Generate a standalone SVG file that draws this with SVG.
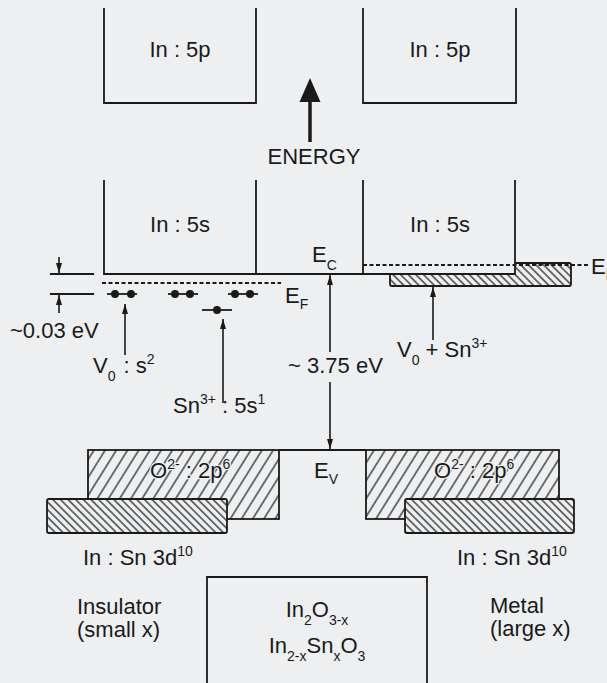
<svg xmlns="http://www.w3.org/2000/svg" width="607" height="683" viewBox="0 0 607 683">
<defs>
<style>
text{font-family:"Liberation Sans",Arial,sans-serif;font-size:22px;fill:#1a1a1a}
.sm{font-size:14px}
.ln{stroke:#1a1a1a;stroke-width:1.8;fill:none}
.bg{fill:#edeff1;stroke:none}
.dash{stroke:#1a1a1a;stroke-width:1.8;stroke-dasharray:4 2.5;fill:none}
.arr{stroke:#1a1a1a;stroke-width:1.6;fill:none;marker-end:url(#ah)}
.dot{fill:#1a1a1a}
.halo{stroke:#edeff1;stroke-width:2.5;paint-order:stroke}
.hb{stroke:#1a1a1a;stroke-width:1.8}
</style>
<marker id="ah" viewBox="0 0 10 6" refX="10" refY="3" markerWidth="10" markerHeight="6" markerUnits="userSpaceOnUse" orient="auto"><path d="M0,0 L10,3 L0,6 z" fill="#1a1a1a"/></marker>
<pattern id="hO" width="9.5" height="9.5" patternUnits="userSpaceOnUse" patternTransform="rotate(32)"><line x1="4.75" y1="-1" x2="4.75" y2="11" stroke="#1a1a1a" stroke-width="1.2"/></pattern>
<pattern id="hB" width="5.4" height="5.4" patternUnits="userSpaceOnUse" patternTransform="rotate(-45)"><line x1="2.7" y1="-1" x2="2.7" y2="7" stroke="#1a1a1a" stroke-width="1.2"/></pattern>
</defs>
<rect class="bg" x="0" y="0" width="607" height="683"/>

<g id="in5p-left"><path class="ln" d="M104,8 V103 H256 V8"/><text x="180" y="57" text-anchor="middle">In : 5p</text></g>
<g id="in5p-right"><path class="ln" d="M363,8 V103 H516 V8"/><text x="440" y="57" text-anchor="middle">In : 5p</text></g>

<g id="energy"><line x1="310" y1="142" x2="310" y2="98" stroke="#1a1a1a" stroke-width="3.5"/><polygon points="299.5,102 310,78 320.5,102" fill="#1a1a1a"/><text x="314" y="164" text-anchor="middle">ENERGY</text></g>

<g id="band-right"><rect class="bg" x="390" y="263" width="181" height="23"/><rect class="hb" x="390" y="263" width="181" height="23" rx="2" fill="url(#hB)"/></g>

<g id="in5s-left"><path class="ln" d="M104,180 V274 H256 V180"/><text x="180" y="232" text-anchor="middle">In : 5s</text></g>
<g id="in5s-right"><rect class="bg" x="363" y="180" width="152" height="94"/><path class="ln" d="M363,180 V274 H515 V180"/><text x="440" y="232" text-anchor="middle">In : 5s</text></g>
<g id="ec"><line class="ln" x1="256" y1="274" x2="363" y2="274"/><text x="312" y="262">E<tspan class="sm" dy="8">C</tspan></text></g>

<g id="ef-left"><line class="dash" x1="102" y1="283" x2="281" y2="283"/><text x="285" y="303">E<tspan class="sm" dy="6">F</tspan></text></g>
<g id="ef-right"><line class="dash" x1="363" y1="265" x2="589" y2="265"/><text x="591" y="274">E<tspan class="sm" dy="6">F</tspan></text></g>

<g id="gap-marker"><line class="ln" x1="50" y1="274" x2="94" y2="274"/><line class="ln" x1="50" y1="294" x2="94" y2="294"/><text x="10" y="338">~0.03 eV</text></g>

<g id="levels">
<line class="ln" x1="107" y1="294" x2="137" y2="294"/><circle class="dot" cx="115" cy="294" r="4"/><circle class="dot" cx="131" cy="294" r="4"/>
<line class="ln" x1="168" y1="294" x2="198" y2="294"/><circle class="dot" cx="175" cy="294" r="4"/><circle class="dot" cx="190" cy="294" r="4"/>
<line class="ln" x1="228" y1="294" x2="258" y2="294"/><circle class="dot" cx="235" cy="294" r="4"/><circle class="dot" cx="250" cy="294" r="4"/>
<line class="ln" x1="202" y1="310" x2="232" y2="310"/><circle class="dot" cx="217" cy="310" r="4"/>
</g>

<g id="label-v0"><text x="93" y="373">V<tspan class="sm" dy="8">0</tspan><tspan dy="-8" dx="2"> : s</tspan><tspan class="sm" dy="-9">2</tspan></text></g>
<g id="label-sn"><text x="173" y="413">Sn<tspan class="sm" dy="-9">3+</tspan><tspan dy="9"> : 5s</tspan><tspan class="sm" dy="-9">1</tspan></text></g>
<g id="label-v0sn"><text x="397" y="357">V<tspan class="sm" dy="8">0</tspan><tspan dy="-8"> + Sn</tspan><tspan class="sm" dy="-9">3+</tspan></text></g>
<g id="label-gap"><text x="288" y="373">~ 3.75 eV</text></g>

<g id="o2-left"><rect class="hb" x="88" y="450" width="191" height="69" fill="url(#hO)"/><text class="halo" x="150" y="478">O<tspan class="sm" dy="-9">2-</tspan><tspan dy="9"> : 2p</tspan><tspan class="sm" dy="-9">6</tspan></text></g>
<g id="o2-right"><rect class="hb" x="366" y="450" width="193" height="69" fill="url(#hO)"/><text class="halo" x="434" y="478">O<tspan class="sm" dy="-9">2-</tspan><tspan dy="9"> : 2p</tspan><tspan class="sm" dy="-9">6</tspan></text></g>
<g id="ev"><line class="ln" x1="279" y1="450" x2="366" y2="450"/><text x="314" y="478">E<tspan class="sm" dy="6">V</tspan></text></g>

<g id="d-left"><rect class="bg" x="47" y="499" width="180" height="34"/><rect class="hb" x="47" y="499" width="180" height="34" rx="2" fill="url(#hB)"/><text x="83" y="565">In : Sn 3d<tspan class="sm" dy="-9">10</tspan></text></g>
<g id="d-right"><rect class="bg" x="405" y="499" width="169" height="34"/><rect class="hb" x="405" y="499" width="169" height="34" rx="2" fill="url(#hB)"/><text x="457" y="565">In : Sn 3d<tspan class="sm" dy="-9">10</tspan></text></g>

<g id="insulator"><text x="77" y="614">Insulator</text><text x="77" y="637">(small x)</text></g>
<g id="metal"><text x="490" y="613">Metal</text><text x="490" y="636">(large x)</text></g>

<g id="formula"><path class="ln" d="M207,690 V577 H427 V690"/>
<text x="317" y="617" text-anchor="middle">In<tspan class="sm" dy="8">2</tspan><tspan dy="-8">O</tspan><tspan class="sm" dy="8">3-x</tspan></text>
<text x="317" y="653" text-anchor="middle">In<tspan class="sm" dy="8">2-x</tspan><tspan dy="-8">Sn</tspan><tspan class="sm" dy="8">x</tspan><tspan dy="-8">O</tspan><tspan class="sm" dy="8">3</tspan></text></g>

<g id="connectors">
<path class="arr" d="M59,257 V273"/>
<path class="arr" d="M59,313 V295"/>
<path class="arr" d="M125,355 V304"/>
<path class="arr" d="M223,403 V319"/>
<path class="arr" d="M433,340 V287"/>
<path class="arr" d="M330,352 V275"/>
<path class="arr" d="M330,382 V449"/>
</g>
</svg>
